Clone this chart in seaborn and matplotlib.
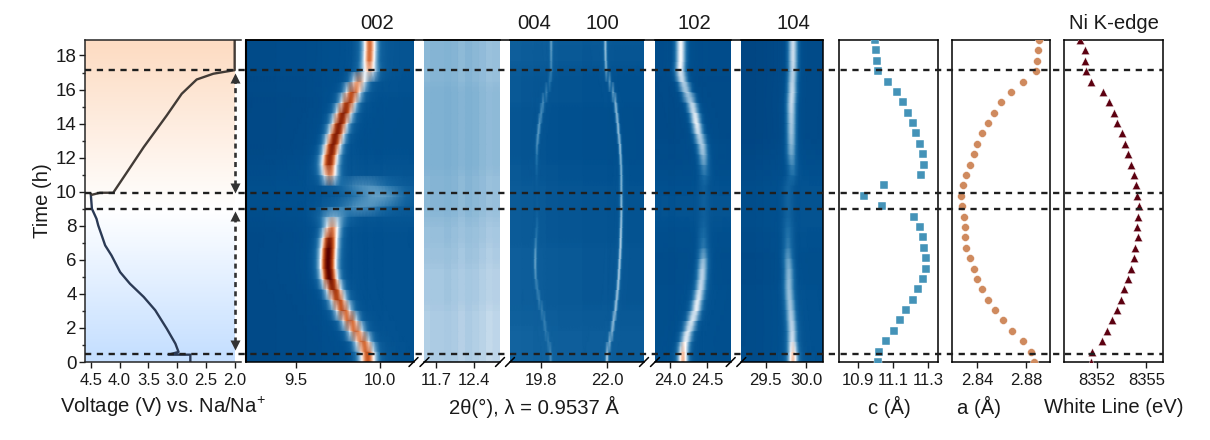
import numpy as np
import matplotlib
matplotlib.use("Agg")
import matplotlib.pyplot as plt
from matplotlib.colors import LinearSegmentedColormap
from matplotlib.lines import Line2D
from matplotlib.transforms import blended_transform_factory
import seaborn as sns

# scan times shared by the maps and the refined parameters
scan_t = [0.0, 0.61, 1.22, 1.83, 2.44, 3.05, 3.66, 4.27, 4.88, 5.49, 6.1, 6.71, 7.32, 7.93, 8.54, 9.15,
          9.76, 10.37, 10.98, 11.59, 12.2, 12.81, 13.42, 14.03, 14.64, 15.25, 15.86, 16.47, 17.08, 17.69, 18.3, 18.91]

# voltage curve
volt_dis_v = [2.77, 2.77, 3.15, 2.975, 3.03, 3.18, 3.38, 3.58, 3.82, 3.99, 4.14, 4.25, 4.31, 4.37, 4.40, 4.48, 4.50]
volt_dis_t = [0.0, 0.43, 0.43, 0.59, 1.08, 1.96, 3.04, 3.82, 4.60, 5.28, 6.26, 6.85, 7.44, 8.02, 8.41, 9.0, 9.88]
volt_chg_v = [4.50, 4.48, 4.34, 4.11, 3.85, 3.58, 3.18, 2.92, 2.66, 2.37, 2.0, 2.0]
volt_chg_t = [9.88, 9.82, 9.94, 9.94, 11.25, 12.62, 14.48, 15.75, 16.59, 16.93, 17.14, 18.9]

# refined values, listed from first to last scan
c_val = [11.015, 11.023, 11.062, 11.104, 11.14, 11.176, 11.213, 11.242, 11.272, 11.289, 11.289, 11.278, 11.268, 11.253,
         11.219, 11.038, 10.936, 11.047, 11.259, 11.278, 11.268, 11.251, 11.232, 11.212, 11.187, 11.155, 11.121, 11.074,
         11.013, 11.008, 11.006, 11.0]
a_val = [2.8862, 2.8841, 2.877, 2.8684, 2.8614, 2.8546, 2.8489, 2.8443, 2.8403, 2.8373, 2.8341, 2.8314, 2.8305, 2.83,
         2.8292, 2.8276, 2.8268, 2.8284, 2.8311, 2.8343, 2.8373, 2.8403, 2.8443, 2.8492, 2.8538, 2.8597, 2.8676, 2.877,
         2.8878, 2.8889, 2.8897, 2.8903]
wl_val = [8351.63, 8351.67, 8352.27, 8352.58, 8352.92, 8353.21, 8353.48, 8353.66, 8353.87, 8354.05, 8354.24, 8354.34,
          8354.49, 8354.45, 8354.49, 8354.53, 8354.45, 8354.38, 8354.26, 8354.08, 8353.87, 8353.68, 8353.52, 8353.21,
          8353.03, 8352.72, 8352.37, 8351.65, 8351.34, 8351.24, 8351.24, 8350.93]

# peak position, height and width per scan
pos_002 = [9.931, 9.925, 9.897, 9.857, 9.821, 9.782, 9.752, 9.726, 9.702, 9.692, 9.692, 9.696, 9.702, 9.716, 9.725, 9.88,
           10.0, 9.9, 9.702, 9.696, 9.706, 9.722, 9.742, 9.762, 9.786, 9.812, 9.841, 9.877, 9.937, 9.937, 9.94, 9.94]
amp_002 = [.78, .8, .8, .8, .85, .85, .87, .92, 1.0, 1.0, 1.0, 1.0, .9, .72, .42, .34,
           .37, .33, .7, .9, .92, .95, .95, .95, .95, .9, .85, .72, .62, .75, .75, .75]
wid_002 = [.036, .036, .036, .036, .036, .036, .036, .036, .036, .036, .036, .036, .036, .036, .06, .11,
           .1, .11, .036, .036, .036, .036, .036, .036, .036, .036, .036, .036, .036, .03, .03, .03]
pos_004 = [20.14, 20.12, 20.05, 19.97, 19.92, 19.84, 19.75, 19.69, 19.64, 19.62, 19.62, 19.63, 19.65, 19.68, 19.68, 19.68,
           19.68, 19.67, 19.67, 19.67, 19.67, 19.68, 19.72, 19.76, 19.82, 19.88, 19.99, 20.1, 20.15, 20.15, 20.15, 20.15]
amp_004 = [.32, .32, .29, .29, .3, .3, .3, .3, .31, .34, .36, .32, .27, .25, .21, .19,
           .18, .18, .19, .24, .26, .33, .36, .36, .34, .34, .31, .28, .3, .32, .34, .36]
pos_100 = [22.0, 22.01, 22.09, 22.17, 22.22, 22.28, 22.32, 22.36, 22.39, 22.41, 22.43, 22.45, 22.46, 22.47, 22.48, 22.48,
           22.48, 22.48, 22.48, 22.47, 22.45, 22.43, 22.39, 22.36, 22.32, 22.28, 22.2, 22.09, 21.98, 21.96, 21.95, 21.95]
amp_100 = [.47, .47, .45, .45, .47, .47, .47, .47, .47, .47, .47, .47, .47, .45, .43, .43,
           .41, .41, .41, .41, .43, .45, .45, .45, .45, .44, .41, .39, .39, .41, .43, .43]
pos_102 = [24.18, 24.18, 24.21, 24.25, 24.30, 24.35, 24.38, 24.41, 24.43, 24.44, 24.45, 24.45, 24.45, 24.45, 24.45, 24.45,
           24.45, 24.45, 24.47, 24.46, 24.45, 24.43, 24.39, 24.36, 24.33, 24.29, 24.23, 24.18, 24.14, 24.15, 24.15, 24.15]
amp_102 = [.68, .65, .55, .53, .54, .54, .53, .5, .48, .47, .4, .28, .25, .22, .2, .2,
           .2, .2, .25, .32, .42, .47, .5, .54, .52, .5, .48, .5, .54, .54, .54, .54]
pos_104 = [29.84, 29.84, 29.83, 29.83, 29.82, 29.81, 29.8, 29.79, 29.79, 29.79, 29.78, 29.78, 29.78, 29.78, 29.78, 29.78,
           29.78, 29.78, 29.83, 29.83, 29.82, 29.82, 29.82, 29.82, 29.82, 29.82, 29.83, 29.83, 29.84, 29.84, 29.84, 29.84]
amp_104 = [.66, .62, .5, .48, .47, .45, .44, .43, .42, .4, .36, .29, .27, .25, .22, .22,
           .22, .22, .25, .3, .37, .41, .44, .45, .47, .49, .49, .47, .47, .49, .49, .49]

# background level per scan for each map
bg_002 = [.13, .13, .13, .13, .13, .13, .13, .13, .13, .13, .13, .13, .13, .14, .15, .16,
          .16, .16, .15, .14, .13, .12, .12, .12, .12, .12, .13, .13, .14, .14, .14, .14]
bg_gap = [.47, .47, .47, .47, .47, .47, .46, .46, .46, .46, .45, .45, .44, .44, .43, .42,
          .42, .42, .42, .41, .41, .41, .41, .41, .41, .41, .41, .42, .42, .42, .42, .42]
bg_mid = [.2, .2, .2, .2, .19, .19, .18, .18, .18, .18, .18, .18, .17, .17, .17, .17,
          .17, .17, .16, .16, .15, .15, .15, .15, .15, .16, .16, .16, .17, .18, .18, .19]
bg_102 = [.14, .14, .14, .14, .14, .14, .14, .14, .13, .13, .13, .14, .14, .15, .16, .16,
          .16, .15, .14, .13, .12, .12, .11, .11, .11, .11, .11, .11, .12, .12, .12, .12]
bg_104 = [.14, .14, .14, .14, .14, .14, .14, .14, .13, .13, .13, .14, .14, .15, .15, .15,
          .15, .15, .14, .13, .12, .11, .1, .1, .1, .1, .1, .1, .1, .1, .1, .1]

# level offset across each map, eleven columns wide
across_002 = [-.02, -.02, -.015, -.015, -.01, 0, 0, .01, .015, .02, .02]
across_gap = [-.005, -.01, -.01, -.015, -.01, 0, -.01, -.005, .005, .015, .01]
across_mid = [.02, .015, .01, .005, 0, 0, -.005, -.005, -.01, -.01, -.01]
across_102 = [0, 0, -.005, 0, 0, 0, 0, .005, .005, .005, .005]
across_104 = [-.02, -.02, -.015, -.01, -.005, 0, 0, .005, .01, .01, .01]

event_t = [0.45, 9.0, 9.95, 17.15]
arrow_spans = [(0.7, 8.9), (9.9, 17.0)]

map_colors = [(0, "#003a75"), (.15, "#01508f"), (.25, "#1a6ca6"), (.38, "#6fa8cc"), (.47, "#b5d0e6"),
              (.55, "#ffffff"), (.66, "#f7bfa0"), (.78, "#d2622a"), (.9, "#982a08"), (1, "#5a0200")]
map_cmap = LinearSegmentedColormap.from_list("xrd", map_colors)
tint_cmap = LinearSegmentedColormap.from_list("tint", [(0, "#c5dfff"), (.47, "#ffffff"), (1, "#fddcc3")])

W, H = 1210, 440
T_MAX = 18.91
TOP, BOT = 40, 362

sns.set_theme(style="ticks")
plt.rcParams["font.family"] = ["Liberation Sans", "DejaVu Sans"]
plt.rcParams["mathtext.default"] = "regular"
plt.rcParams["axes.linewidth"] = 1.1
ink = "#1a1a1a"


def panel(fig, x0, x1):
    return fig.add_axes([x0 / W, 1 - BOT / H, (x1 - x0) / W, (BOT - TOP) / H])


def fig_line(fig, xs, ys, **kw):
    fig.add_artist(Line2D([x / W for x in xs], [1 - y / H for y in ys], transform=fig.transFigure, **kw))


def fig_text(fig, x, y, s, **kw):
    fig.text(x / W, 1 - y / H, s, ha="center", va="center", color=ink, **kw)


def peak_map(xlim, bg, across, peaks, ncol=220):
    x = np.linspace(xlim[0], xlim[1], ncol)
    grid = np.tile(np.array(bg)[:, None], (1, ncol)) + np.repeat(across, ncol // len(across))
    for pos, amp, wid in peaks:
        for row in range(len(scan_t)):
            d = (x - pos[row]) / wid[row]
            shape = 0.8 * np.exp(-0.5 * d ** 2) + 0.2 / (1 + (d / 1.6) ** 2)
            grid[row] += (amp[row] - bg[row]) * shape
    return grid


def draw_map(ax, xlim, bg, across, peaks, ticks, labels):
    grid = peak_map(xlim, bg, across, peaks)
    nrow, ncol = grid.shape
    sns.heatmap(grid, ax=ax, cmap=map_cmap, vmin=0, vmax=1, cbar=False, xticklabels=False, yticklabels=False,
                shading="gouraud")
    ax.set_xlim(0, ncol - 1)
    ax.set_ylim(0, nrow - 1)
    ax.set_xticks([(t - xlim[0]) / (xlim[1] - xlim[0]) * (ncol - 1) for t in ticks])
    ax.set_xticklabels(labels)
    ax.set_yticks([])
    ax.tick_params(axis="x", labelsize=12, length=4, width=1.0, pad=4, colors=ink)
    for s in ("left", "right"):
        ax.spines[s].set_visible(False)
    for s in ("top", "bottom"):
        ax.spines[s].set_visible(True)
        ax.spines[s].set_color("black")


fig = plt.figure(figsize=(W / 100, H / 100), dpi=100)

# voltage panel
ax_v = panel(fig, 85, 241)
ramp = np.array(scan_t)[::-1, None] / T_MAX
ax_v.imshow(ramp, cmap=tint_cmap, vmin=0, vmax=1, extent=(4.6, 2.0, 0, T_MAX), aspect="auto", interpolation="bilinear")
sns.lineplot(x=volt_dis_v, y=volt_dis_t, ax=ax_v, sort=False, estimator=None, color="#2b3a55", lw=1.7)
sns.lineplot(x=volt_chg_v, y=volt_chg_t, ax=ax_v, sort=False, estimator=None, color="#423b36", lw=1.7)
ax_v.set_xlim(4.6, 1.89)
ax_v.set_ylim(0, T_MAX)
ax_v.set_xticks([4.5, 4.0, 3.5, 3.0, 2.5, 2.0])
ax_v.set_xticklabels(["4.5", "4.0", "3.5", "3.0", "2.5", "2.0"])
ax_v.set_yticks(range(0, 19, 2))
ax_v.set_yticks(range(1, 19, 2), minor=True)
ax_v.tick_params(axis="x", labelsize=12, length=4, width=1.0, pad=4, colors=ink)
ax_v.tick_params(axis="y", labelsize=13.5, length=4, width=1.0, pad=2, colors=ink)
ax_v.tick_params(axis="y", which="minor", length=2.5, width=1.0)
ax_v.spines["right"].set_visible(False)
ax_v.spines["top"].set_visible(True)
ax_v.set_ylabel("")

for t0, t1 in arrow_spans:
    ax_v.plot([2.0, 2.0], [t0 + 0.5, t1 - 0.5], color="#333333", lw=1.9, ls=(0, (1.9, 1.6)), clip_on=False, zorder=5)
    ax_v.plot([2.0], [t0 + 0.3], marker="v", ms=7.5, color="#333333", mec="none", clip_on=False, zorder=5)
    ax_v.plot([2.0], [t1 - 0.3], marker="^", ms=7.5, color="#333333", mec="none", clip_on=False, zorder=5)

# diffraction maps
w_line = [.036] * 32
w_102 = [.05] * 32
w_104 = [.045] * 32
panels = [
    (246, 413.5, (9.2, 10.2), bg_002, across_002, [(pos_002, amp_002, wid_002)], [9.5, 10.0], ["9.5", "10.0"]),
    (424, 500, (11.48, 12.89), bg_gap, across_gap, [], [11.7, 12.4], ["11.7", "12.4"]),
    (510, 644, (18.77, 23.22), bg_mid, across_mid, [(pos_004, amp_004, w_line), (pos_100, amp_100, w_line)], [19.8, 22.0], ["19.8", "22.0"]),
    (655, 730.7, (23.8, 24.81), bg_102, across_102, [(pos_102, amp_102, w_102)], [24.0, 24.5], ["24.0", "24.5"]),
    (741.3, 822.7, (29.2, 30.2), bg_104, across_104, [(pos_104, amp_104, w_104)], [29.5, 30.0], ["29.5", "30.0"]),
]
for x0, x1, xlim, bg, across, peaks, ticks, labels in panels:
    draw_map(panel(fig, x0, x1), xlim, bg, across, peaks, ticks, labels)

# top rule, outer edges and axis breaks across the maps
fig_line(fig, [246, 823], [TOP, TOP], color="black", lw=1.1)
fig_line(fig, [246, 246], [TOP, BOT], color="black", lw=1.5)
fig_line(fig, [823, 823], [TOP, BOT], color="black", lw=1.1)
for x_break in [413.5, 424.5, 500, 510, 644, 655, 730.7, 741.3]:
    fig_line(fig, [x_break - 4.5, x_break + 4.5], [BOT + 4.5, BOT - 4.5], color="black", lw=1.1)

# refined parameters
scatter_panels = [
    (839.3, 938.3, (10.796, 11.357), c_val, "s", "#4493b8", 26, [10.9, 11.1, 11.3], ["10.9", "11.1", "11.3"]),
    (952.3, 1050.3, (2.82, 2.8995), a_val, "o", "#cf8a5e", 32, [2.84, 2.88], ["2.84", "2.88"]),
    (1064.3, 1162.7, (8350.0, 8356.0), wl_val, "^", "#5c0010", 36, [8352, 8355], ["8352", "8355"]),
]
for x0, x1, xlim, vals, mark, col, size, ticks, labels in scatter_panels:
    ax = panel(fig, x0, x1)
    sns.scatterplot(x=vals, y=scan_t, ax=ax, marker=mark, color=col, s=size, edgecolor="white", linewidth=0.3, zorder=3)
    ax.set_xlim(*xlim)
    ax.set_ylim(0, T_MAX)
    ax.set_yticks([])
    ax.set_xticks(ticks)
    ax.set_xticklabels(labels)
    ax.tick_params(axis="x", labelsize=12, length=4, width=1.0, pad=4, colors=ink)
    for s in ax.spines.values():
        s.set_visible(True)
        s.set_color("black")

# dashed event lines run across every panel
to_time = blended_transform_factory(fig.transFigure, ax_v.transData)
for t in event_t:
    fig.add_artist(Line2D([85 / W, 1163 / W], [t, t], transform=to_time, color="#1f1f1f", lw=1.7, ls=(0, (2.65, 2.35)), zorder=6))

# text
for x, s in [(376.7, "002"), (534, "004"), (602.7, "100"), (694, "102"), (793, "104"), (1114, "Ni K-edge")]:
    fig_text(fig, x, 23.5, s, fontsize=14.6)
fig_text(fig, 42, 201, "Time (h)", fontsize=14.6, rotation=90)
for x, s in [(162.5, "Voltage (V) vs. Na/Na$^{+}$"), (534, "2θ(°), λ = 0.9537 Å"), (889, "c (Å)"), (979, "a (Å)"), (1114, "White Line (eV)")]:
    fig_text(fig, x, 407, s, fontsize=14.6)

fig.savefig("out.png", dpi=100)
